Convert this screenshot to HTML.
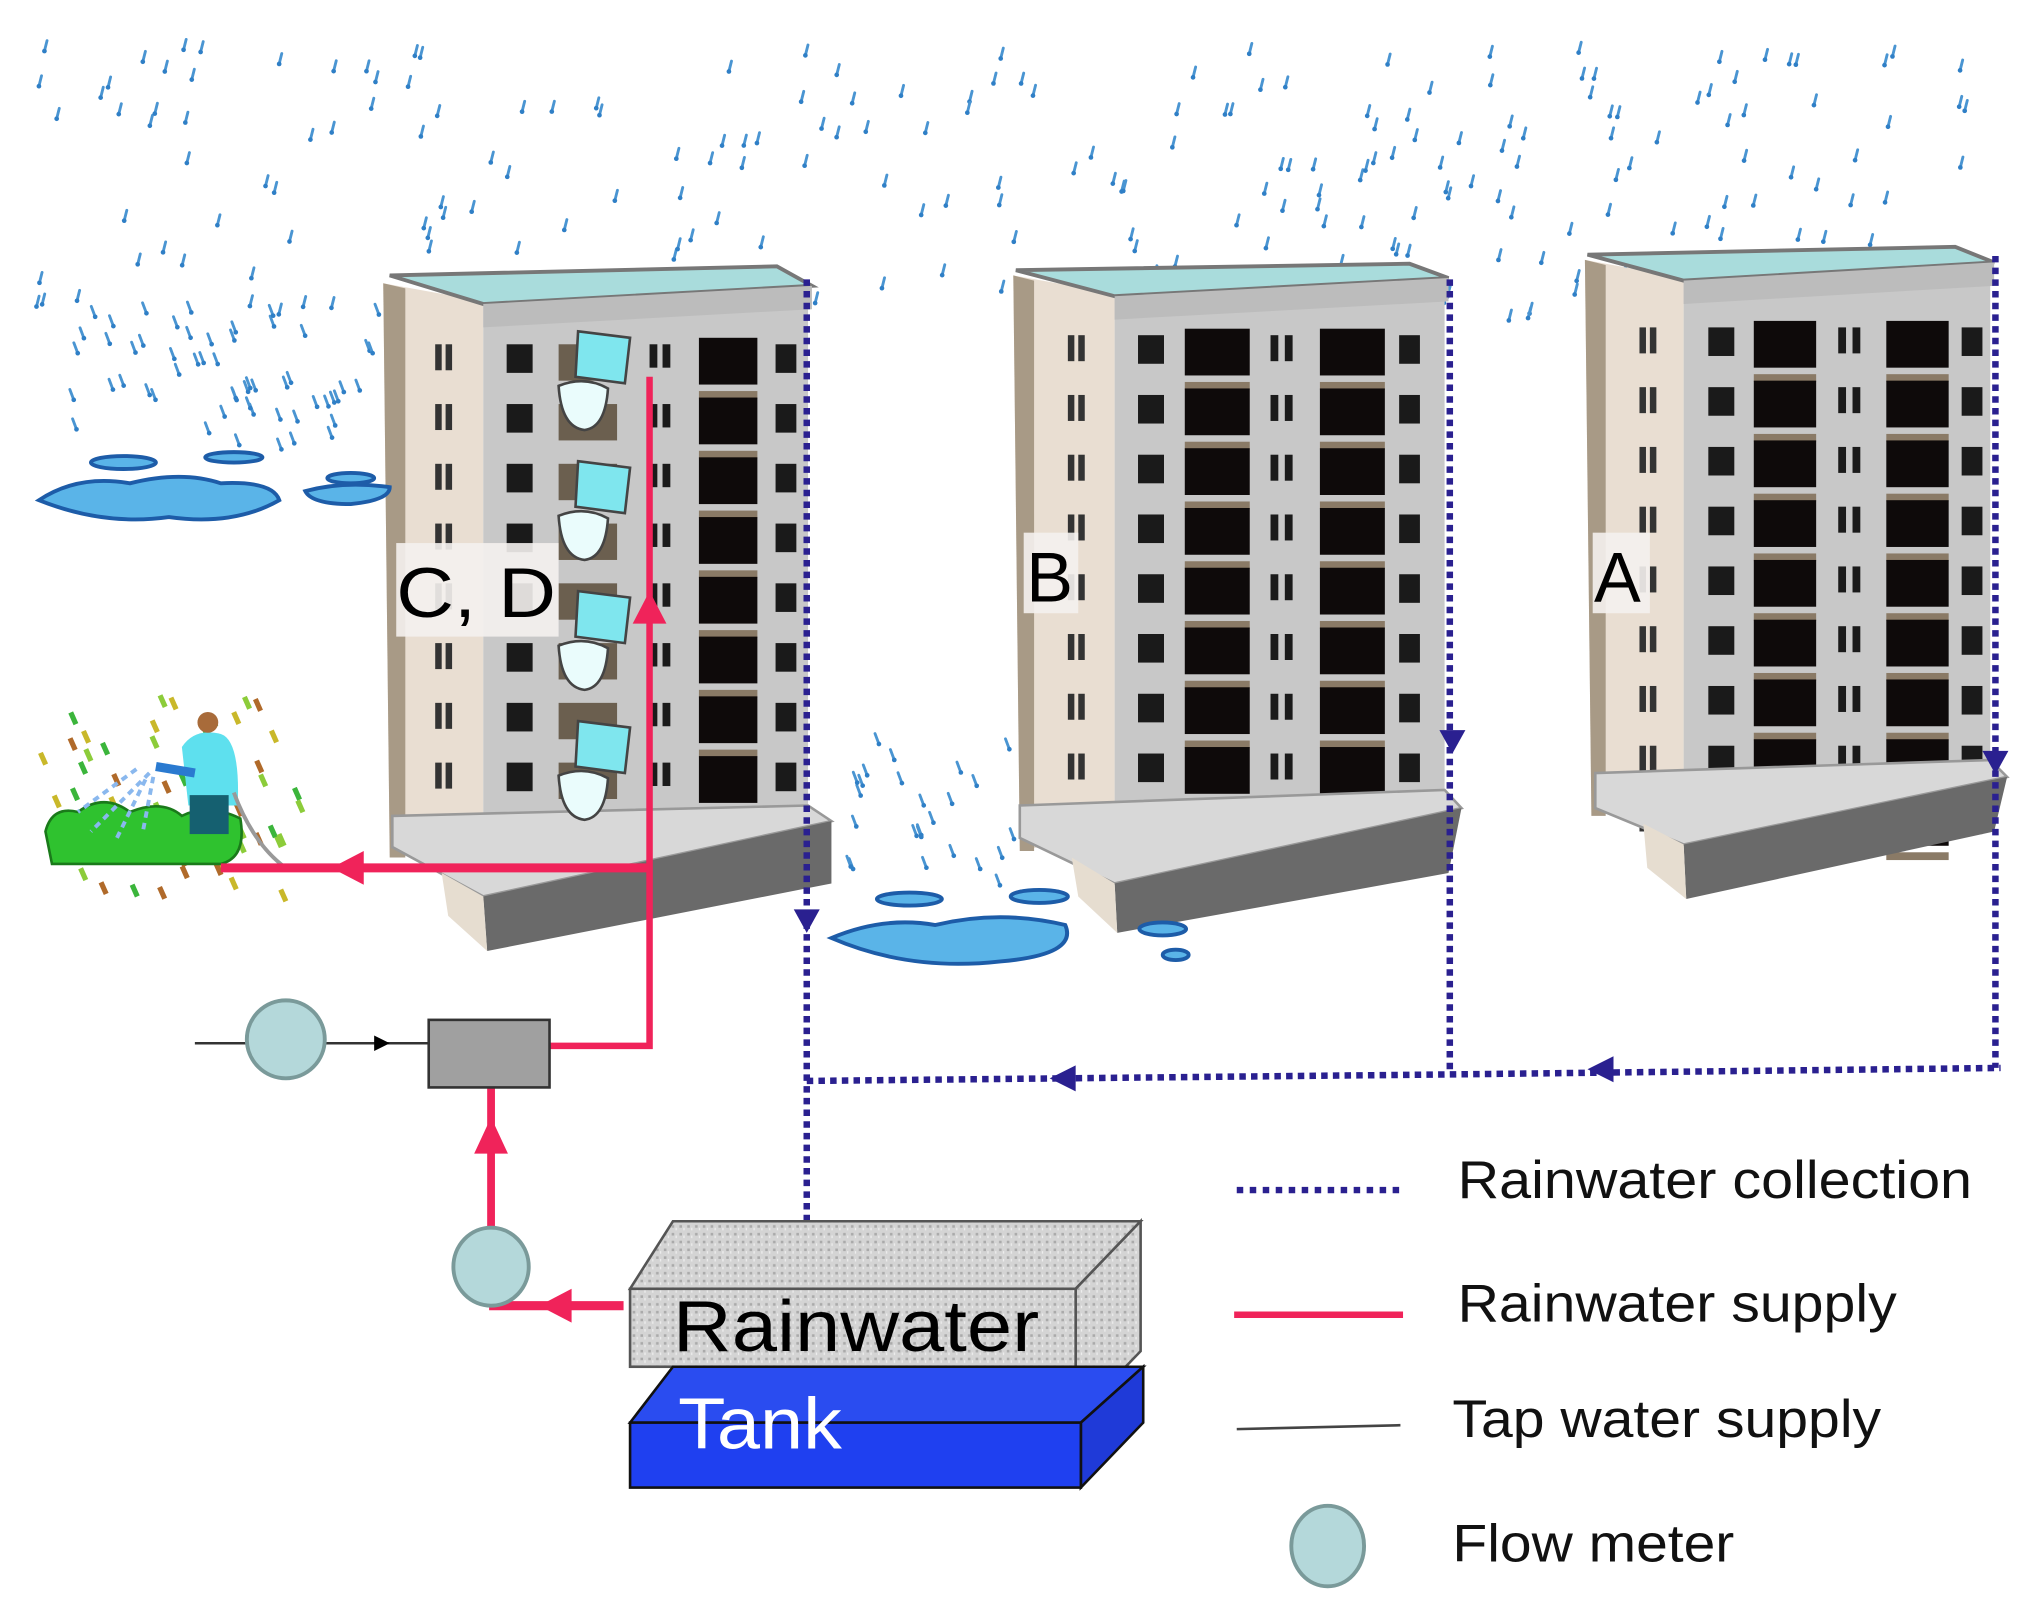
<!DOCTYPE html>
<html><head><meta charset="utf-8"><style>
html,body{margin:0;padding:0;background:#fff;}
svg{display:block;}
text{font-family:"Liberation Sans",Arial,sans-serif;}
</style></head><body>
<svg id="s" width="2037" height="1611" viewBox="0 0 1568 1240" preserveAspectRatio="none" xmlns="http://www.w3.org/2000/svg">
<rect width="1568" height="1240" fill="#fff"/>
<g id="rain"></g>

<g id="bCD">
<polygon points="295,218 372,232 372,640 300,660" fill="#e9ded2"/>
<polygon points="295,218 312,222 312,660 300,660" fill="#a89a86"/>
<polygon points="372,232 622,220 622,628 372,640" fill="#c8c8c8"/>
<polygon points="300,212 598,205 625,220 372,234" fill="#a9dcdc" stroke="#777" stroke-width="3"/>
<polygon points="372,234 625,220 625,238 372,252" fill="#bcbcbc"/>
</g>
<g id="bB">
<polygon points="780,212 858,226 858,640 785,655" fill="#e9ded2"/>
<polygon points="780,212 796,216 796,655 785,655" fill="#a89a86"/>
<polygon points="858,226 1112,214 1112,620 858,640" fill="#c8c8c8"/>
<polygon points="782,208 1085,203 1115,214 858,228" fill="#a9dcdc" stroke="#777" stroke-width="3"/>
<polygon points="858,228 1115,214 1115,232 858,246" fill="#bcbcbc"/>
</g>
<g id="bA">
<polygon points="1220,200 1296,214 1296,615 1225,628" fill="#e9ded2"/>
<polygon points="1220,200 1236,204 1236,628 1225,628" fill="#a89a86"/>
<polygon points="1296,214 1532,204 1532,600 1296,615" fill="#c8c8c8"/>
<polygon points="1222,196 1505,190 1535,202 1296,216" fill="#a9dcdc" stroke="#777" stroke-width="3"/>
<polygon points="1296,216 1535,202 1535,220 1296,234" fill="#bcbcbc"/>
</g>
<g id="win"></g>
<polygon points="302,628 622,620 640,632 372,690 302,652" fill="#d8d8d8" stroke="#999" stroke-width="2"/>
<polygon points="372,690 640,632 640,680 375,732" fill="#6a6a6a"/>
<polygon points="340,672 372,690 375,732 345,705" fill="#e6ddd0"/>
<polygon points="785,620 1112,608 1125,622 858,680 785,645" fill="#d8d8d8" stroke="#999" stroke-width="2"/>
<polygon points="858,680 1125,622 1115,672 860,718" fill="#6a6a6a"/>
<polygon points="825,660 858,680 860,718 830,690" fill="#e6ddd0"/>
<polygon points="1228,595 1532,585 1545,598 1296,650 1228,622" fill="#d8d8d8" stroke="#999" stroke-width="2"/>
<polygon points="1296,650 1545,598 1535,640 1298,692" fill="#6a6a6a"/>
<polygon points="1265,634 1296,650 1298,692 1268,668" fill="#e6ddd0"/>

<g id="toil"></g>

<rect x="305" y="418" width="125" height="72" fill="#f4f1ee" opacity="0.9"/>
<text x="305" y="475" font-size="54" fill="#000" textLength="123" lengthAdjust="spacingAndGlyphs">C, D</text>
<rect x="788" y="410" width="42" height="62" fill="#f4f1ee" opacity="0.9"/>
<text x="790" y="463" font-size="54" fill="#000">B</text>
<rect x="1226" y="410" width="44" height="62" fill="#f4f1ee" opacity="0.9"/>
<text x="1227" y="463" font-size="54" fill="#000">A</text>

<g fill="#5ab4e8" stroke="#1d5ca8" stroke-width="3">
<path d="M30,385 Q60,365 100,372 Q140,362 170,372 Q210,370 215,385 Q180,405 130,398 Q80,405 30,385Z"/>
<path d="M235,378 Q265,370 300,375 Q300,385 270,388 Q240,388 235,378Z"/>
<ellipse cx="95" cy="356" rx="25" ry="5"/><ellipse cx="180" cy="352" rx="22" ry="4"/><ellipse cx="270" cy="368" rx="18" ry="4"/>
<path d="M640,722 Q680,705 720,712 Q770,700 820,712 Q830,735 770,740 Q700,748 640,722Z"/>
<ellipse cx="700" cy="692" rx="25" ry="5"/><ellipse cx="800" cy="690" rx="22" ry="5"/><ellipse cx="895" cy="715" rx="18" ry="5"/><ellipse cx="905" cy="735" rx="10" ry="4"/>
</g>

<g>
<g id="leaves"></g>
<path d="M35,640 Q40,620 60,625 Q80,610 100,625 Q125,615 140,628 Q160,618 185,630 Q190,660 170,665 L40,665 Z" fill="#2fc22f" stroke="#1a7a1a" stroke-width="2"/>
<path d="M140,575 Q150,560 170,565 Q185,570 183,620 L145,620 Z" fill="#5ee0ee"/>
<rect x="146" y="612" width="30" height="30" fill="#156070"/>
<circle cx="160" cy="556" r="8" fill="#a86b3a"/>
<path d="M120,590 L150,595" stroke="#2a7ad0" stroke-width="7"/>
<path d="M115,595 L70,640 M112,600 L90,645 M118,598 L110,640 M105,592 L60,625" stroke="#8ab8ee" stroke-width="3" stroke-dasharray="5,4"/>
<path d="M180,610 Q195,650 220,668" stroke="#999" stroke-width="3" fill="none"/>
</g>

<g stroke="#f0235a" fill="none">
<path d="M500,290 L500,805 L423,805" stroke-width="5"/>
<path d="M500,668 L170,668" stroke-width="7"/>
<path d="M378,820 L378,945" stroke-width="6"/>
<path d="M480,1005 L380,1005 L380,1000" stroke-width="7"/>
</g>
<g fill="#f0235a">
<polygon points="500,455 487,480 513,480"/>
<polygon points="255,668 280,655 280,681"/>
<polygon points="378,860 365,888 391,888"/>
<polygon points="415,1005 440,992 440,1018"/>
</g>

<path d="M150,803 L330,803" stroke="#333" stroke-width="2"/>
<polygon points="300,803 288,797 288,809" fill="#000"/>
<rect x="330" y="785" width="93" height="52" fill="#a0a0a0" stroke="#333" stroke-width="2"/>
<circle cx="220" cy="800" r="30" fill="#b4d8da" stroke="#7a9a9a" stroke-width="3"/>
<ellipse cx="378" cy="975" rx="29" ry="30" fill="#b4d8da" stroke="#7a9a9a" stroke-width="3"/>

<g stroke="#2a2090" stroke-width="5" stroke-dasharray="5,4" fill="none">
<path d="M621,215 L621,955"/>
<path d="M1116,215 L1116,827"/>
<path d="M1536,197 L1536,822"/>
<path d="M621,832 L1116,827 L1540,822"/>
</g>
<g fill="#2a2090">
<polygon points="621,718 611,700 631,700"/>
<polygon points="1118,580 1108,562 1128,562"/>
<polygon points="1536,596 1526,578 1546,578"/>
<polygon points="808,830 828,820 828,840"/>
<polygon points="1222,823 1242,813 1242,833"/>
</g>

<defs>
<pattern id="sp" width="6" height="6" patternUnits="userSpaceOnUse">
<rect width="6" height="6" fill="#d4d4d4"/><rect x="1" y="1" width="2" height="2" fill="#aaa"/><rect x="4" y="3" width="1" height="2" fill="#eee"/>
</pattern>
</defs>
<polygon points="485,992 518,940 878,940 828,992" fill="url(#sp)" stroke="#555" stroke-width="2"/>
<polygon points="828,992 878,940 878,1040 828,1092" fill="url(#sp)" stroke="#555" stroke-width="2"/>
<rect x="485" y="992" width="343" height="60" fill="url(#sp)" stroke="#555" stroke-width="2"/>
<polygon points="485,1095 518,1052 880,1052 832,1095" fill="#2a4cf0" stroke="#111" stroke-width="2"/>
<polygon points="832,1095 880,1052 880,1095 832,1145" fill="#1f3ad8" stroke="#111" stroke-width="2"/>
<rect x="485" y="1095" width="347" height="50" fill="#1f40f0" stroke="#111" stroke-width="2"/>
<text x="518" y="1040" font-size="56" fill="#000" textLength="282" lengthAdjust="spacingAndGlyphs">Rainwater</text>
<text x="522" y="1115" font-size="56" fill="#fff" textLength="126" lengthAdjust="spacingAndGlyphs">Tank</text>

<path d="M952,916 L1080,916" stroke="#2a2090" stroke-width="5" stroke-dasharray="5,5"/>
<text x="1122" y="922" font-size="41" fill="#111" textLength="396" lengthAdjust="spacingAndGlyphs">Rainwater collection</text>
<path d="M950,1012 L1080,1012" stroke="#f0235a" stroke-width="5"/>
<text x="1122" y="1017" font-size="41" fill="#111" textLength="338" lengthAdjust="spacingAndGlyphs">Rainwater supply</text>
<path d="M952,1100 L1078,1097" stroke="#444" stroke-width="2"/>
<text x="1118" y="1106" font-size="41" fill="#111" textLength="330" lengthAdjust="spacingAndGlyphs">Tap water supply</text>
<ellipse cx="1022" cy="1190" rx="28" ry="31" fill="#b4d8da" stroke="#7a9a9a" stroke-width="3"/>
<text x="1118" y="1202" font-size="41" fill="#111" textLength="217" lengthAdjust="spacingAndGlyphs">Flow meter</text>
</svg>
<script>
var NS="http://www.w3.org/2000/svg";
function el(p,t,a){var e=document.createElementNS(NS,t);for(var k in a)e.setAttribute(k,a[k]);p.appendChild(e);return e;}
var seed=7;function r(){seed=(seed*16807)%2147483647;return seed/2147483647;}
var rain=document.getElementById('rain');
function drop(x,y,dx){el(rain,'path',{d:'M'+x+','+y+' l'+dx+',8',stroke:'#4a95d2','stroke-width':2.2,'stroke-linecap':'round'});
 el(rain,'circle',{cx:x+dx,cy:y+8,r:1.8,fill:'#2f7fc6'});}
for(var i=0;i<240;i++){var x=30+r()*1490,y=30+r()*215;drop(x,y,-2);}
for(var i=0;i<55;i++){var x=30+r()*260,y=230+r()*110;drop(x,y,3);}
for(var i=0;i<25;i++){var x=650+r()*130,y=560+r()*120;drop(x,y,3);}
var w=document.getElementById('win');
function bld(lx,fx,top,rows,step,cols){
 for(var j=0;j<rows;j++){var y=top+j*step;
  el(w,'rect',{x:lx,y:y,width:5,height:20,fill:'#333'});el(w,'rect',{x:lx+8,y:y,width:5,height:20,fill:'#333'});
  cols.forEach(function(c){el(w,'rect',{x:c[0],y:y+(c[2]||0),width:c[1],height:c[3]||24,fill:c[4]||'#1a1a1a'});
   if(c[5])el(w,'rect',{x:c[0],y:y+(c[3]||24),width:c[1],height:6,fill:'#8a7a66'});});}
}
bld(335,0,265,9,46,[[390,20,0,22],[430,45,0,28,'#6b5f4f'],[538,45,-5,36,'#0e0a0a',1],[597,16,0,22],[500,6,0,18],[510,6,0,18]]);
bld(822,0,258,9,46,[[876,20,0,22],[912,50,-5,36,'#0e0a0a',1],[978,6,0,20],[989,6,0,20],[1016,50,-5,36,'#0e0a0a',1],[1077,16,0,22]]);
bld(1262,0,252,9,46,[[1315,20,0,22],[1350,48,-5,36,'#0e0a0a',1],[1415,6,0,20],[1426,6,0,20],[1452,48,-5,36,'#0e0a0a',1],[1510,16,0,22]]);
var t=document.getElementById('toil');
for(var k=0;k<4;k++){var y=255+k*100;
 el(t,'path',{d:'M445,'+y+' l40,5 l-4,35 l-38,-5z',fill:'#7fe6ee',stroke:'#444','stroke-width':2});
 el(t,'path',{d:'M430,'+(y+42)+' q20,-8 38,2 q-2,30 -18,32 q-18,-2 -20,-34z',fill:'#eafcfc',stroke:'#444','stroke-width':2});}
var lv=document.getElementById('leaves'),cl=['#3bb53b','#c9b82a','#b06a2a','#8ccc3a'];
for(var i=0;i<55;i++){var x=30+r()*200,y=535+r()*150;el(lv,'path',{d:'M'+x+','+y+' l4,9',stroke:cl[i%4],'stroke-width':4});}
</script>
</body></html>
